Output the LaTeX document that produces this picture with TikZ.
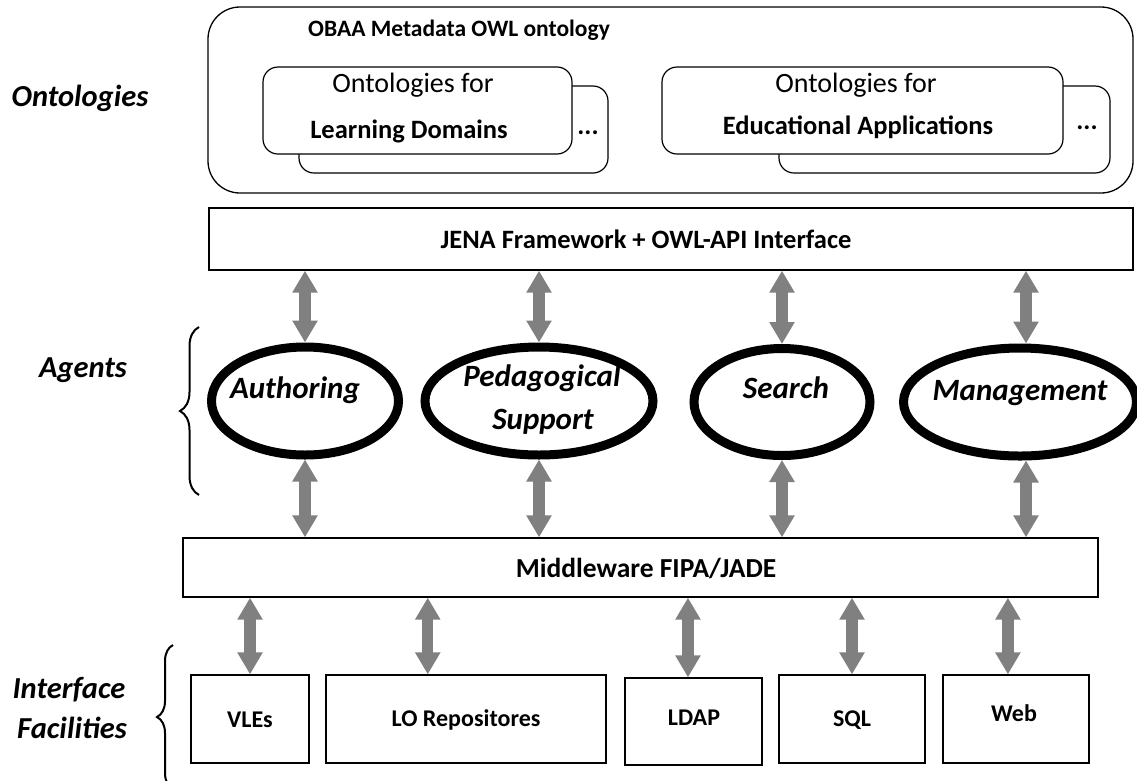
\documentclass[tikz,border=0pt]{standalone}
\usepackage{fontspec}
\setmainfont{Carlito}
\usetikzlibrary{arrows.meta,shapes.geometric,decorations.pathreplacing,calc}
\begin{document}
\begin{tikzpicture}[x=1pt,y=-1pt,
  box/.style={draw,line width=1.3pt,inner sep=0pt},
  rbox/.style={draw,line width=1.2pt,rounded corners=15pt,fill=white,inner sep=0pt},
  agent/.style={draw,ellipse,line width=9pt,inner sep=0pt,fill=white},
  agtext/.style={font=\fontsize{31}{36}\selectfont\bfseries\itshape,inner sep=0pt},
  side/.style={font=\fontsize{30.5}{36}\selectfont\bfseries\itshape,inner sep=0pt},
  btext/.style={font=\fontsize{24}{29}\selectfont\bfseries,inner sep=0pt},
  otext/.style={font=\fontsize{28}{33}\selectfont,inner sep=0pt},
  obtext/.style={font=\fontsize{26.5}{31}\selectfont\bfseries,inner sep=0pt},
  arr/.style={draw=arrgray,line width=11.5pt,{Triangle[width=24pt,length=22pt]}-{Triangle[width=24pt,length=22pt]}},
  brc/.style={decorate,decoration={brace,amplitude=#1},line width=2pt}
]
\definecolor{arrgray}{RGB}{128,128,128}
\useasboundingbox (0,0) rectangle (1137,780);

% Ontologies
\node[box,rounded corners=32pt,minimum width=925pt,minimum height=186pt] (onto) at (670.5,100) {};
\node[font=\fontsize{23.5}{28}\selectfont\bfseries,inner sep=0pt] (title) at (459,30) {OBAA Metadata OWL ontology};

\node[rbox,minimum width=309pt,minimum height=87pt] (ldback) at (453.5,129.5) {};
\node[rbox,minimum width=309pt,minimum height=87pt] (ld) at (417.5,110.5) {};
\node[otext] (ld1) at (413,85) {Ontologies for};
\node[obtext] (ld2) at (409,131) {Learning Domains};
\node[obtext] (lddots) at (588,133) {...};

\node[rbox,minimum width=331pt,minimum height=87pt] (eaback) at (944.5,129.5) {};
\node[rbox,minimum width=401pt,minimum height=87pt] (ea) at (862.5,110.5) {};
\node[otext] (ea1) at (856,85) {Ontologies for};
\node[obtext] (ea2) at (858,127) {Educational Applications};
\node[obtext] (eadots) at (1087,128) {...};

% JENA
\node[box,minimum width=924pt,minimum height=62pt] (jena) at (671,239) {};
\node[font=\fontsize{26.5}{31}\selectfont\bfseries,inner sep=0pt] (jenat) at (646,239) {JENA Framework + OWL-API Interface};

% Agents
\node[agent,minimum width=187pt,minimum height=108pt] (auth) at (305,401) {};
\node[agent,minimum width=228pt,minimum height=108pt] (ped) at (539,401) {};
\node[agent,minimum width=176pt,minimum height=107pt] (search) at (782,402) {};
\node[agent,minimum width=233pt,minimum height=108pt] (mgmt) at (1020,402) {};
\node[agtext] (autht) at (295,390) {Authoring};
\node[agtext] (pedt1) at (542,378) {Pedagogical};
\node[agtext] (pedt2) at (543,422) {Support};
\node[agtext] (searcht) at (786,388) {Search};
\node[agtext] (mgmtt) at (1020,393) {Management};

% Middleware
\node[box,minimum width=915pt,minimum height=59pt] (mw) at (640.5,567.5) {};
\node[font=\fontsize{27.5}{32}\selectfont\bfseries,inner sep=0pt] (mwt) at (646,568) {Middleware FIPA/JADE};

% Interface facilities
\node[box,minimum width=118pt,minimum height=88pt] (vle) at (250,719) {};
\node[box,minimum width=280pt,minimum height=88pt] (lo) at (466,719) {};
\node[box,minimum width=137pt,minimum height=87pt] (ldap) at (693.5,721.5) {};
\node[box,minimum width=146pt,minimum height=88pt] (sql) at (852,719) {};
\node[box,minimum width=146pt,minimum height=88pt] (web) at (1016,719) {};
\node[btext] (vlet) at (250,720) {VLEs};
\node[btext] (lot) at (466,720) {LO Repositores};
\node[btext] (ldapt) at (694,718) {LDAP};
\node[btext] (sqlt) at (852,720) {SQL};
\node[btext] (webt) at (1014,713) {Web};

% Side labels
\node[side] (lonto) at (80,98) {Ontologies};
\node[side] (lagents) at (83,370) {Agents};
\node[side] (lint1) at (69,690) {Interface};
\node[side] (lint2) at (72,728) {Facilities};

% Braces
\coordinate (bra) at (199,495);
\coordinate (brb) at (199,327);
\draw[brc=19pt] (bra) -- (brb);
\coordinate (bia) at (173,789);
\coordinate (bib) at (173,645);
\draw[brc=16pt] (bia) -- (bib);

% Arrows JENA <-> agents
\draw[arr] (jena.south -| auth.north) -- (auth.north);
\draw[arr] (jena.south -| ped.north) -- (ped.north);
\draw[arr] (jena.south -| search.north) -- (search.north);
\draw[arr] ($(jena.south -| mgmt.north)+(6,0)$) -- ($(mgmt.north)+(6,0)$);

% Arrows agents <-> middleware
\draw[arr] (auth.south) -- (auth.south |- mw.north);
\draw[arr] (ped.south) -- (ped.south |- mw.north);
\draw[arr] (search.south) -- (search.south |- mw.north);
\draw[arr] ($(mgmt.south)+(6,0)$) -- ($(mgmt.south |- mw.north)+(6,0)$);

% Arrows middleware <-> facilities
\draw[arr] (mw.south -| vle.north) -- (vle.north);
\coordinate (loin) at ($(lo.north west)!0.364!(lo.north east)$);
\draw[arr] (mw.south -| loin) -- (loin);
\coordinate (ldapin) at ($(ldap.north west)!0.46!(ldap.north east)$);
\draw[arr] (mw.south -| ldapin) -- (ldapin);
\draw[arr] (mw.south -| sql.north) -- (sql.north);
\coordinate (webin) at ($(web.north west)!0.445!(web.north east)$);
\draw[arr] (mw.south -| webin) -- (webin);
\end{tikzpicture}
\end{document}
